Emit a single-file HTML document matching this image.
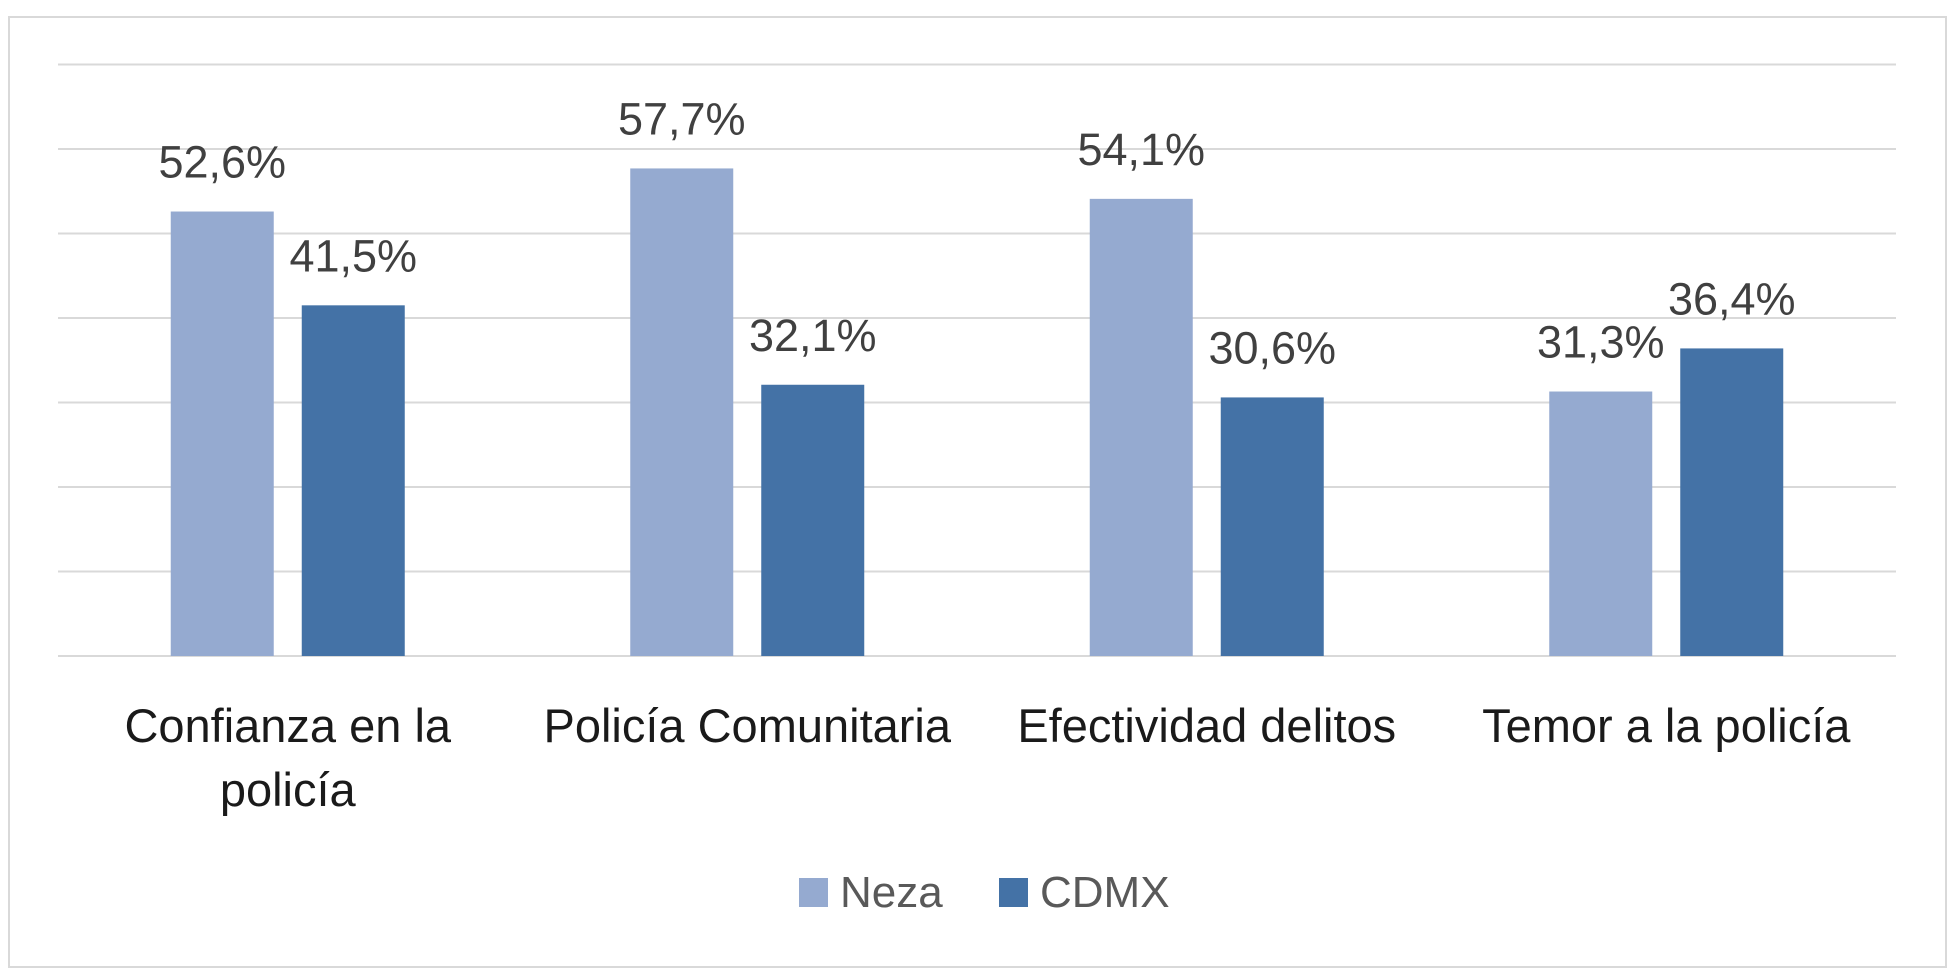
<!DOCTYPE html>
<html><head><meta charset="utf-8"><style>
body{margin:0;background:#fff;}
svg{display:block;font-family:"Liberation Sans",sans-serif;}
</style></head><body>
<svg width="1960" height="974">
<rect x="9" y="17" width="1937" height="950" fill="#fff" stroke="#d9d9d9" stroke-width="2"/>
<g id="grid"></g>
<g id="bars"></g>
<g id="labels"></g>
<g>
<rect x="799" y="878" width="29" height="29" fill="#95aad0"/>
<text x="840" y="907" font-size="44" fill="#595959">Neza</text>
<rect x="999" y="878" width="29" height="29" fill="#4472a6"/>
<text x="1040" y="907" font-size="44" fill="#595959">CDMX</text>
</g>
</svg>
<script>
const categories=[["Confianza en la","policía"],["Policía Comunitaria"],["Efectividad delitos"],["Temor a la policía"]];
const neza=[52.6,57.7,54.1,31.3];
const cdmx=[41.5,32.1,30.6,36.4];
const yTicks=[0,10,20,30,40,50,60,70];
const X0=58,X1=1896,BASE=656,PXPER=8.45;
const y=v=>BASE-v*PXPER;
const catW=(X1-X0)/categories.length;
const cx=i=>X0+catW*(i+0.5);
const NS="http://www.w3.org/2000/svg";
function mk(tag,attrs,parent){const e=document.createElementNS(NS,tag);for(const k in attrs)e.setAttribute(k,attrs[k]);parent.appendChild(e);return e;}
const grid=document.getElementById('grid'),bars=document.getElementById('bars'),labels=document.getElementById('labels');
yTicks.forEach(t=>{const l=mk('line',{x1:X0,x2:X1,y1:y(t),y2:y(t),stroke:'#d9d9d9','stroke-width':2},grid);

});
const BW=103,GAP=28;
const series=[{v:neza,c:'#95aad0',n:'neza',off:-(BW+GAP/2)},{v:cdmx,c:'#4472a6',n:'cdmx',off:GAP/2}];
categories.forEach((cat,i)=>{
 series.forEach(s=>{
  const x=cx(i)+s.off,v=s.v[i];
  const r=mk('rect',{x:x,y:y(v),width:BW,height:BASE-y(v),fill:s.c},bars);
  
  
  const t=mk('text',{x:x+BW/2,y:y(v)-34,'text-anchor':'middle','font-size':45,fill:'#404040'},labels);
  t.textContent=v.toFixed(1).replace('.',',')+'%';
  
  
 });
 cat.forEach((line,j)=>{
  const t=mk('text',{x:cx(i),y:742+j*64,'text-anchor':'middle','font-size':47,fill:'#1a1a1a'},labels);
  t.textContent=line;
  
  
 });
});
</script>
</body></html>
